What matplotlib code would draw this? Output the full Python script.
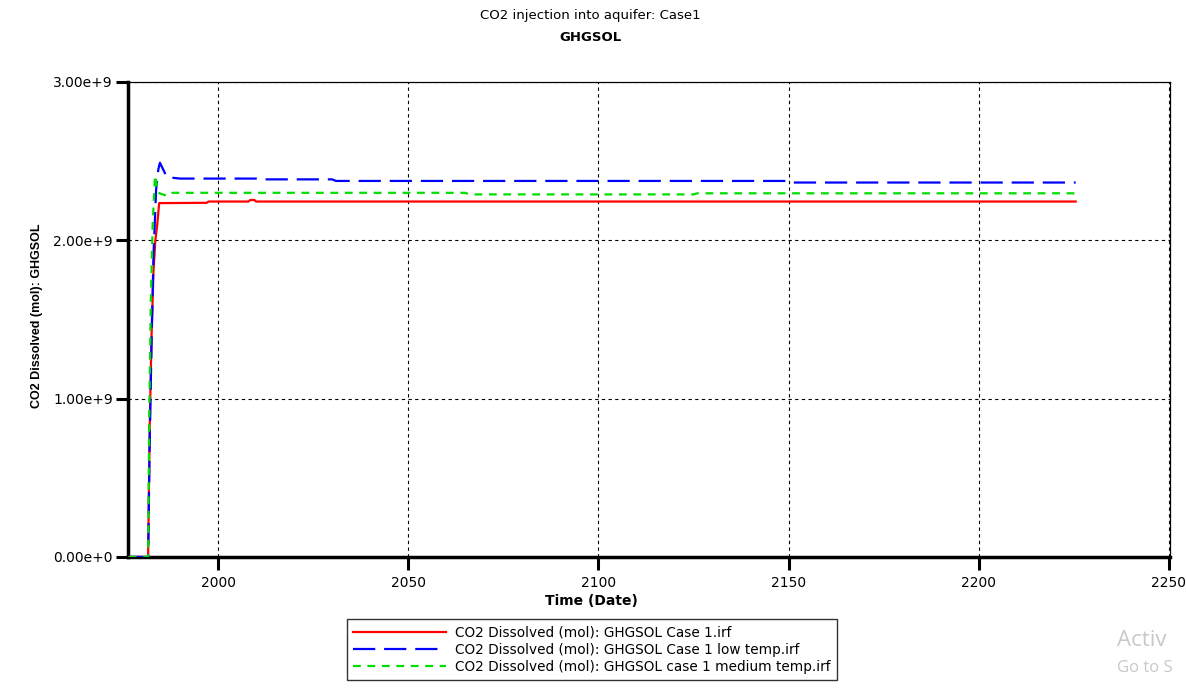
import matplotlib.pyplot as plt
from matplotlib.ticker import FuncFormatter

plt.rcParams['font.family'] = ['DejaVu Sans']

# red: Case 1
years_red = [1976.5, 1981.6, 1982.0, 1982.5, 1983.0, 1983.5, 1984.0, 1984.5,
             1997.0, 1997.5, 2008.0, 2008.5, 2009.5, 2010.0, 2225.5]
co2_red = [0, 0, 0.8, 1.4, 1.8, 2.0, 2.1, 2.235,
           2.237, 2.245, 2.245, 2.255, 2.255, 2.245, 2.245]

# blue: Case 1 low temp
years_blue = [1976.5, 1981.6, 1982.0, 1982.5, 1983.0, 1983.7, 1984.3, 1984.7,
              1986.5, 1988.0, 1990.0, 2011.0, 2012.0, 2030.0, 2031.0,
              2150.0, 2151.0, 2225.5]
co2_blue = [0, 0, 0.7, 1.35, 1.9, 2.32, 2.45, 2.49,
            2.40, 2.395, 2.39, 2.39, 2.385, 2.385, 2.375,
            2.375, 2.365, 2.365]

# green: case 1 medium temp
years_green = [1976.5, 1981.6, 1981.9, 1982.3, 1982.8, 1983.4, 1984.3, 1986.6,
               1988.0, 2065.0, 2066.0, 2125.0, 2126.0, 2225.5]
co2_green = [0, 0, 0.9, 1.6, 2.1, 2.41, 2.30, 2.28,
             2.30, 2.30, 2.29, 2.29, 2.297, 2.297]

labels = ['CO2 Dissolved (mol): GHGSOL Case 1.irf',
          'CO2 Dissolved (mol): GHGSOL Case 1 low temp.irf',
          'CO2 Dissolved (mol): GHGSOL case 1 medium temp.irf']

x_ticks = [2000, 2050, 2100, 2150, 2200, 2250]
y_ticks = [0, 1e9, 2e9, 3e9]

fig = plt.figure(figsize=(11.86, 6.89), dpi=100)
ax = fig.add_axes([0.1079, 0.1916, 0.8786, 0.6894])

sc = 1e9
ax.plot(years_red, [v * sc for v in co2_red], color='#ff0000', lw=1.6, label=labels[0], zorder=3)
ax.plot(years_blue, [v * sc for v in co2_blue], color='#0000ff', lw=1.6,
        dashes=(10, 4), label=labels[1], zorder=4)
ax.plot(years_green, [v * sc for v in co2_green], color='#00dd00', lw=1.6,
        dashes=(3.5, 3), label=labels[2], zorder=5)

ax.set_xlim(1976.3, 2250.3)
ax.set_ylim(0, 3e9)
ax.set_xticks(x_ticks)
ax.set_yticks(y_ticks)

def fmt(v, pos):
    if v == 0:
        return '0.00e+0'
    return '%.2fe+9' % (v / 1e9)

ax.yaxis.set_major_formatter(FuncFormatter(fmt))
ax.xaxis.set_major_formatter(FuncFormatter(lambda v, p: '%d' % v))

ax.grid(True, color='black', lw=0.8, linestyle=(0, (3, 3)))
ax.tick_params(direction='out', length=9, width=2.2, labelsize=10, pad=2)
ax.tick_params(axis='x', pad=5)

ax.spines['left'].set_linewidth(2.5)
ax.spines['bottom'].set_linewidth(2.5)
ax.spines['top'].set_linewidth(0.9)
ax.spines['right'].set_linewidth(0.9)

ax.set_xlabel('Time (Date)', fontsize=10, fontweight='bold')
ax.set_ylabel('CO2 Dissolved (mol): GHGSOL', fontsize=9, fontweight='bold',
              family='Liberation Sans')
ax.xaxis.set_label_coords(0.445, -0.078)
ax.yaxis.set_label_coords(-0.0816, 0.507)

fig.text(0.498, 0.978, 'CO2 injection into aquifer: Case1', ha='center', va='center', fontsize=9.5)
fig.text(0.498, 0.946, 'GHGSOL', ha='center', va='center', fontsize=9.5, fontweight='bold')

leg = fig.legend(loc='center', bbox_to_anchor=(0.499, 0.0573), fontsize=9.8,
                 handlelength=6.8, frameon=True, fancybox=False, edgecolor='black',
                 borderpad=0.45, labelspacing=0.22, handletextpad=0.7)
leg.get_frame().set_linewidth(1.0)

# screenshot watermark
fig.text(0.942, 0.07, 'Activ', fontsize=16, color='#c8c8c8', family='Open Sans', va='center')
fig.text(0.942, 0.031, 'Go to S', fontsize=12, color='#c8c8c8', family='Open Sans', va='center')

fig.savefig('out.png', dpi=100)
